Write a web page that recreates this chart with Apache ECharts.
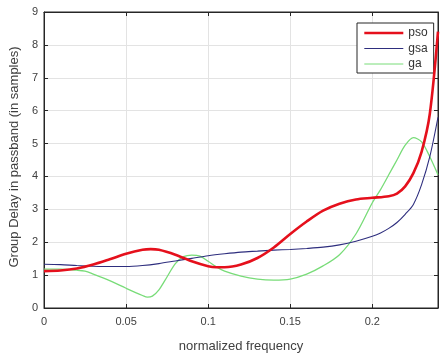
<!DOCTYPE html>
<html>
<head>
<meta charset="utf-8">
<script src="https://cdn.jsdelivr.net/npm/echarts@6/dist/echarts.min.js"></script>
<style>html,body{margin:0;padding:0;background:#fff;}#c{width:440px;height:358px;}</style>
</head>
<body>
<div id="c"></div>
<script>
var xTicks = [0, 0.05, 0.1, 0.15, 0.2];
var yTicks = [0, 1, 2, 3, 4, 5, 6, 7, 8, 9];

var psoX = [0, 0.01, 0.02, 0.03, 0.04, 0.05, 0.06, 0.065, 0.07, 0.08, 0.09, 0.1, 0.105, 0.11, 0.12, 0.13, 0.14, 0.15, 0.16, 0.17, 0.18, 0.19, 0.2, 0.21, 0.215, 0.22, 0.225, 0.23, 0.235, 0.24];
var psoY = [1.12, 1.14, 1.2, 1.32, 1.48, 1.65, 1.77, 1.79, 1.77, 1.62, 1.42, 1.27, 1.24, 1.24, 1.32, 1.52, 1.84, 2.25, 2.63, 2.96, 3.17, 3.3, 3.35, 3.4, 3.48, 3.7, 4.1, 4.75, 5.9, 8.4];

var gsaX = [0, 0.01, 0.02, 0.03, 0.04, 0.05, 0.06, 0.07, 0.08, 0.09, 0.1, 0.11, 0.12, 0.13, 0.14, 0.15, 0.16, 0.17, 0.18, 0.19, 0.2, 0.205, 0.21, 0.215, 0.22, 0.225, 0.23, 0.235, 0.24];
var gsaY = [1.33, 1.32, 1.29, 1.27, 1.26, 1.26, 1.29, 1.35, 1.43, 1.51, 1.59, 1.65, 1.7, 1.73, 1.76, 1.78, 1.81, 1.85, 1.92, 2.03, 2.18, 2.28, 2.42, 2.6, 2.85, 3.15, 3.75, 4.6, 5.8];

var gaX = [0, 0.01, 0.02, 0.025, 0.03, 0.04, 0.05, 0.06, 0.063, 0.066, 0.07, 0.075, 0.08, 0.085, 0.09, 0.095, 0.1, 0.105, 0.11, 0.12, 0.13, 0.14, 0.15, 0.16, 0.17, 0.18, 0.19, 0.2, 0.205, 0.21, 0.215, 0.22, 0.225, 0.23, 0.235, 0.24];
var gaY = [1.18, 1.18, 1.15, 1.12, 1.03, 0.83, 0.6, 0.38, 0.33, 0.36, 0.55, 0.95, 1.35, 1.56, 1.61, 1.58, 1.42, 1.25, 1.12, 0.97, 0.88, 0.85, 0.88, 1.03, 1.28, 1.62, 2.25, 3.2, 3.6, 4.05, 4.5, 4.95, 5.18, 5.05, 4.6, 4.05];

function pairs(xs, ys) { return xs.map(function (x, i) { return [x, ys[i]]; }); }

var FONT = '"Liberation Sans", Arial, sans-serif';
var chart = echarts.init(document.getElementById('c'), null, { renderer: 'canvas' });
var axisCol = '#262626';
var labelCol = '#404040';
var gridCol = '#e3e3e3';

chart.setOption({
  animation: false,
  backgroundColor: '#ffffff',
  textStyle: { fontFamily: FONT },
  grid: { left: 38, right: 2, top: 12, bottom: 40, show: true, borderColor: axisCol, borderWidth: 1, backgroundColor: 'transparent' },
  legend: {
    orient: 'vertical',
    left: 357, top: 23,
    padding: [4, 6, 3, 6],
    itemWidth: 39, itemHeight: 12, itemGap: 3.5,
    borderColor: axisCol, borderWidth: 1, backgroundColor: '#fff',
    itemStyle: { color: 'transparent', borderColor: 'transparent', borderWidth: 0, opacity: 0 },
    textStyle: { fontSize: 12, color: '#333', fontFamily: FONT },
    data: [
      { name: 'pso', lineStyle: { width: 2.6 } },
      { name: 'gsa', lineStyle: { width: 1 } },
      { name: 'ga', lineStyle: { width: 1 } }
    ]
  },
  xAxis: [{
    type: 'value', min: 0, max: 0.24, interval: 0.05,
    name: 'normalized frequency', nameLocation: 'middle', nameGap: 32,
    nameTextStyle: { fontSize: 13, color: labelCol, fontFamily: FONT },
    axisLine: { show: true, onZero: false, lineStyle: { color: axisCol, width: 1 } },
    axisTick: { show: true, inside: true, length: 4, lineStyle: { color: axisCol } },
    axisLabel: { fontSize: 11, color: labelCol, margin: 8, showMaxLabel: false, fontFamily: FONT,
      formatter: function (v) { var r = Math.round(v * 100) / 100; return xTicks.indexOf(r) >= 0 ? String(r) : ''; } },
    splitLine: { show: true, lineStyle: { color: gridCol, width: 1 } }
  }, {
    type: 'value', min: 0, max: 0.24, interval: 0.05, position: 'top',
    axisLine: { show: true, onZero: false, lineStyle: { color: axisCol, width: 1 } },
    axisTick: { show: true, inside: true, length: 4, lineStyle: { color: axisCol } },
    axisLabel: { show: false }, splitLine: { show: false }
  }],
  yAxis: [{
    type: 'value', min: 0, max: 9, interval: 1,
    name: 'Group Delay in passband (in samples)', nameLocation: 'middle', nameGap: 23,
    nameTextStyle: { fontSize: 13, color: labelCol, fontFamily: FONT, padding: [0, 0, 0, 6] },
    axisLine: { show: true, onZero: false, lineStyle: { color: axisCol, width: 1 } },
    axisTick: { show: true, inside: true, length: 4, lineStyle: { color: axisCol } },
    axisLabel: { fontSize: 11, color: labelCol, margin: 6, fontFamily: FONT },
    splitLine: { show: true, lineStyle: { color: gridCol, width: 1 } }
  }, {
    type: 'value', min: 0, max: 9, interval: 1, position: 'right',
    axisLine: { show: true, onZero: false, lineStyle: { color: axisCol, width: 1 } },
    axisTick: { show: true, inside: true, length: 4, lineStyle: { color: axisCol } },
    axisLabel: { show: false }, splitLine: { show: false }
  }],
  series: [
    { name: 'pso', type: 'line', data: pairs(psoX, psoY), smooth: 0.3, symbol: 'none', clip: true,
      color: '#e5101c', lineStyle: { color: '#e5101c', width: 2.6 }, z: 5 },
    { name: 'gsa', type: 'line', data: pairs(gsaX, gsaY), smooth: 0.3, symbol: 'none', clip: true,
      color: '#2e2e7e', lineStyle: { color: '#2e2e7e', width: 1.1 }, z: 4 },
    { name: 'ga', type: 'line', data: pairs(gaX, gaY), smooth: 0.3, symbol: 'none', clip: true,
      color: '#78dc78', lineStyle: { color: '#78dc78', width: 1.3 }, z: 3 }
  ]
});
</script>
</body>
</html>
